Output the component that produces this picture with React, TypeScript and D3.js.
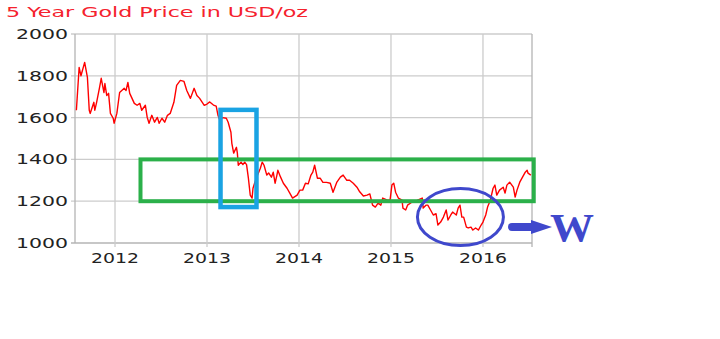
import React from "react";
import * as d3 from "d3";

const title = "5 Year Gold Price in USD/oz";
const yTicks = [1000, 1200, 1400, 1600, 1800, 2000];
const xTicks = [2012, 2013, 2014, 2015, 2016];
const xDomain = [2011.565, 2016.533];
const yDomain = [1000, 2000];

// decimal years and prices
const years = [
  2011.58, 2011.61, 2011.63, 2011.67, 2011.70, 2011.72, 2011.73, 2011.77, 2011.78, 2011.80,
  2011.83, 2011.85, 2011.88, 2011.89, 2011.91, 2011.93, 2011.95, 2011.98, 2011.99, 2012.02,
  2012.05, 2012.10, 2012.12, 2012.14, 2012.16, 2012.21, 2012.24, 2012.27, 2012.29, 2012.33,
  2012.35, 2012.37, 2012.40, 2012.43, 2012.46, 2012.48, 2012.51, 2012.54, 2012.57, 2012.60,
  2012.64, 2012.67, 2012.71, 2012.75, 2012.78, 2012.82, 2012.86, 2012.89, 2012.92, 2012.97,
  2013.00, 2013.03, 2013.07, 2013.10, 2013.12, 2013.14, 2013.17, 2013.21, 2013.23, 2013.26,
  2013.27, 2013.29, 2013.32, 2013.33, 2013.34, 2013.37, 2013.39, 2013.41, 2013.43, 2013.45,
  2013.47, 2013.49, 2013.50, 2013.52, 2013.55, 2013.58, 2013.60, 2013.62, 2013.65, 2013.67,
  2013.70, 2013.72, 2013.74, 2013.76, 2013.77, 2013.80, 2013.83, 2013.87, 2013.90, 2013.93,
  2013.98, 2014.01, 2014.04, 2014.07, 2014.10, 2014.13, 2014.15, 2014.17, 2014.20, 2014.23,
  2014.26, 2014.30, 2014.34, 2014.37, 2014.41, 2014.45, 2014.48, 2014.52, 2014.55, 2014.59,
  2014.63, 2014.66, 2014.70, 2014.74, 2014.77, 2014.80, 2014.83, 2014.86, 2014.89, 2014.91,
  2014.96, 2014.99, 2015.01, 2015.03, 2015.05, 2015.08, 2015.12, 2015.13, 2015.16, 2015.18,
  2015.23, 2015.26, 2015.29, 2015.34, 2015.35, 2015.38, 2015.40, 2015.43, 2015.46, 2015.49,
  2015.51, 2015.54, 2015.57, 2015.60, 2015.62, 2015.65, 2015.67, 2015.71, 2015.73, 2015.75,
  2015.77, 2015.79, 2015.82, 2015.84, 2015.87, 2015.89, 2015.92, 2015.95, 2015.98, 2016.00,
  2016.03, 2016.05, 2016.08, 2016.11, 2016.13, 2016.15, 2016.18, 2016.22, 2016.24, 2016.26,
  2016.29, 2016.33, 2016.35, 2016.37, 2016.40, 2016.43, 2016.46, 2016.48, 2016.49, 2016.52,
];
const prices = [
  1635, 1840, 1800, 1864, 1792, 1635, 1620, 1673, 1635, 1673,
  1740, 1788, 1720, 1763, 1706, 1716, 1620, 1597, 1573, 1620,
  1720, 1740, 1730, 1768, 1716, 1668, 1659, 1668, 1635, 1659,
  1601, 1573, 1611, 1578, 1601, 1573, 1597, 1578, 1611, 1620,
  1673, 1754, 1778, 1773, 1730, 1692, 1740, 1706, 1692, 1659,
  1665, 1675, 1660, 1655, 1610, 1587, 1600, 1597, 1578, 1530,
  1477, 1430, 1458, 1430, 1372, 1387, 1375, 1387, 1375, 1310,
  1229, 1215, 1262, 1290, 1325, 1358, 1387, 1372, 1325, 1335,
  1315, 1339, 1286, 1325, 1348, 1315, 1286, 1262, 1239, 1215,
  1229, 1253, 1253, 1286, 1283, 1325, 1339, 1372, 1310, 1310,
  1290, 1290, 1286, 1243, 1290, 1315, 1325, 1300, 1300, 1286,
  1267, 1245, 1225, 1229, 1235, 1181, 1172, 1191, 1181, 1215,
  1205, 1205, 1277, 1286, 1243, 1215, 1205, 1167, 1158, 1181,
  1196, 1196, 1205, 1215, 1167, 1181, 1181, 1158, 1134, 1140,
  1086, 1100, 1124, 1158, 1110, 1134, 1148, 1134, 1167, 1181,
  1124, 1124, 1076, 1072, 1076, 1062, 1072, 1062, 1086, 1100,
  1134, 1172, 1205, 1262, 1277, 1229, 1253, 1267, 1239, 1277,
  1291, 1267, 1220, 1253, 1291, 1315, 1339, 1348, 1334, 1325,
];

// annotation shapes in data units: [year0, year1, priceTop, priceBottom]
const blueBox = [2013.147, 2013.538, 1637, 1172];
const greenBox = [2012.277, 2016.552, 1400, 1200];
// ellipse: [centerYear, centerPrice]
const ellipseCenter = [2015.755, 1124];

export default function App() {
  const W = 720, H = 339;
  const left = 75, right = 532, top = 34, bottom = 243;
  const x = d3.scaleLinear().domain(xDomain).range([left, right]);
  const y = d3.scaleLinear().domain(yDomain).range([bottom, top]);
  const pts = years.map((yr, i) => [yr, prices[i]] as [number, number]);
  const line = d3.line<[number, number]>().x(d => x(d[0])).y(d => y(d[1]));
  const font = "'DejaVu Sans', Verdana, sans-serif";
  const grid = "#cccccc";
  const axis = "#b4b4b4";
  const blue = "#3f48cc";

  const bx0 = x(blueBox[0]), bx1 = x(blueBox[1]), by0 = y(blueBox[2]), by1 = y(blueBox[3]);
  const gx0 = x(greenBox[0]), gx1 = x(greenBox[1]), gy0 = y(greenBox[2]), gy1 = y(greenBox[3]);
  const ex = x(ellipseCenter[0]), ey = y(ellipseCenter[1]);

  return (
    <svg width={W} height={H} style={{ position: "absolute", left: 0, top: 0, background: "#fff" }}>
      <rect width={W} height={H} fill="#fff" />
      <text x={6} y={17} fontFamily={font} fontSize={14} fill="#f5222d"
        textLength={302} lengthAdjust="spacingAndGlyphs">{title}</text>
      {/* grid */}
      {yTicks.map(t => (
        <g key={"y" + t}>
          <line x1={left - 4} x2={right} y1={y(t)} y2={y(t)} stroke={t === 1000 ? axis : grid} strokeWidth={1.3} />
          <text x={68} y={y(t) + 5} fontFamily={font} fontSize={14} fill="#222" textAnchor="end"
            textLength={52} lengthAdjust="spacingAndGlyphs">{t}</text>
        </g>
      ))}
      {xTicks.map(t => (
        <g key={"x" + t}>
          <line x1={x(t)} x2={x(t)} y1={top} y2={bottom + 4} stroke={grid} strokeWidth={1.3} />
          <text x={x(t)} y={263} fontFamily={font} fontSize={14} fill="#222" textAnchor="middle"
            textLength={48} lengthAdjust="spacingAndGlyphs">{t}</text>
        </g>
      ))}
      <line x1={left} x2={left} y1={top} y2={bottom} stroke={axis} strokeWidth={1.3} />
      <line x1={right} x2={right} y1={top} y2={bottom + 4} stroke={axis} strokeWidth={1.3} />
      {/* price line */}
      <path d={line(pts) || ""} fill="none" stroke="#ff0000" strokeWidth={1.4} strokeLinejoin="round" />
      {/* annotations */}
      <rect x={gx0} y={gy0} width={gx1 - gx0} height={gy1 - gy0} fill="none" stroke="#2bb04a" strokeWidth={4} />
      <rect x={bx0} y={by0} width={bx1 - bx0} height={by1 - by0} fill="none" stroke="#1aa3e3" strokeWidth={4.5} />
      <ellipse cx={ex} cy={ey} rx={43} ry={28.5} fill="none" stroke={blue} strokeWidth={3} />
      <line x1={512} x2={533} y1={227} y2={227} stroke={blue} strokeWidth={8} strokeLinecap="round" />
      <path d="M531,220 L552,227 L531,234 Z" fill={blue} />
      <text x={550} y={241} fontFamily="'Liberation Serif', 'Times New Roman', serif" fontWeight="bold"
        fontSize={41} fill={blue} textLength={44} lengthAdjust="spacingAndGlyphs">W</text>
    </svg>
  );
}
